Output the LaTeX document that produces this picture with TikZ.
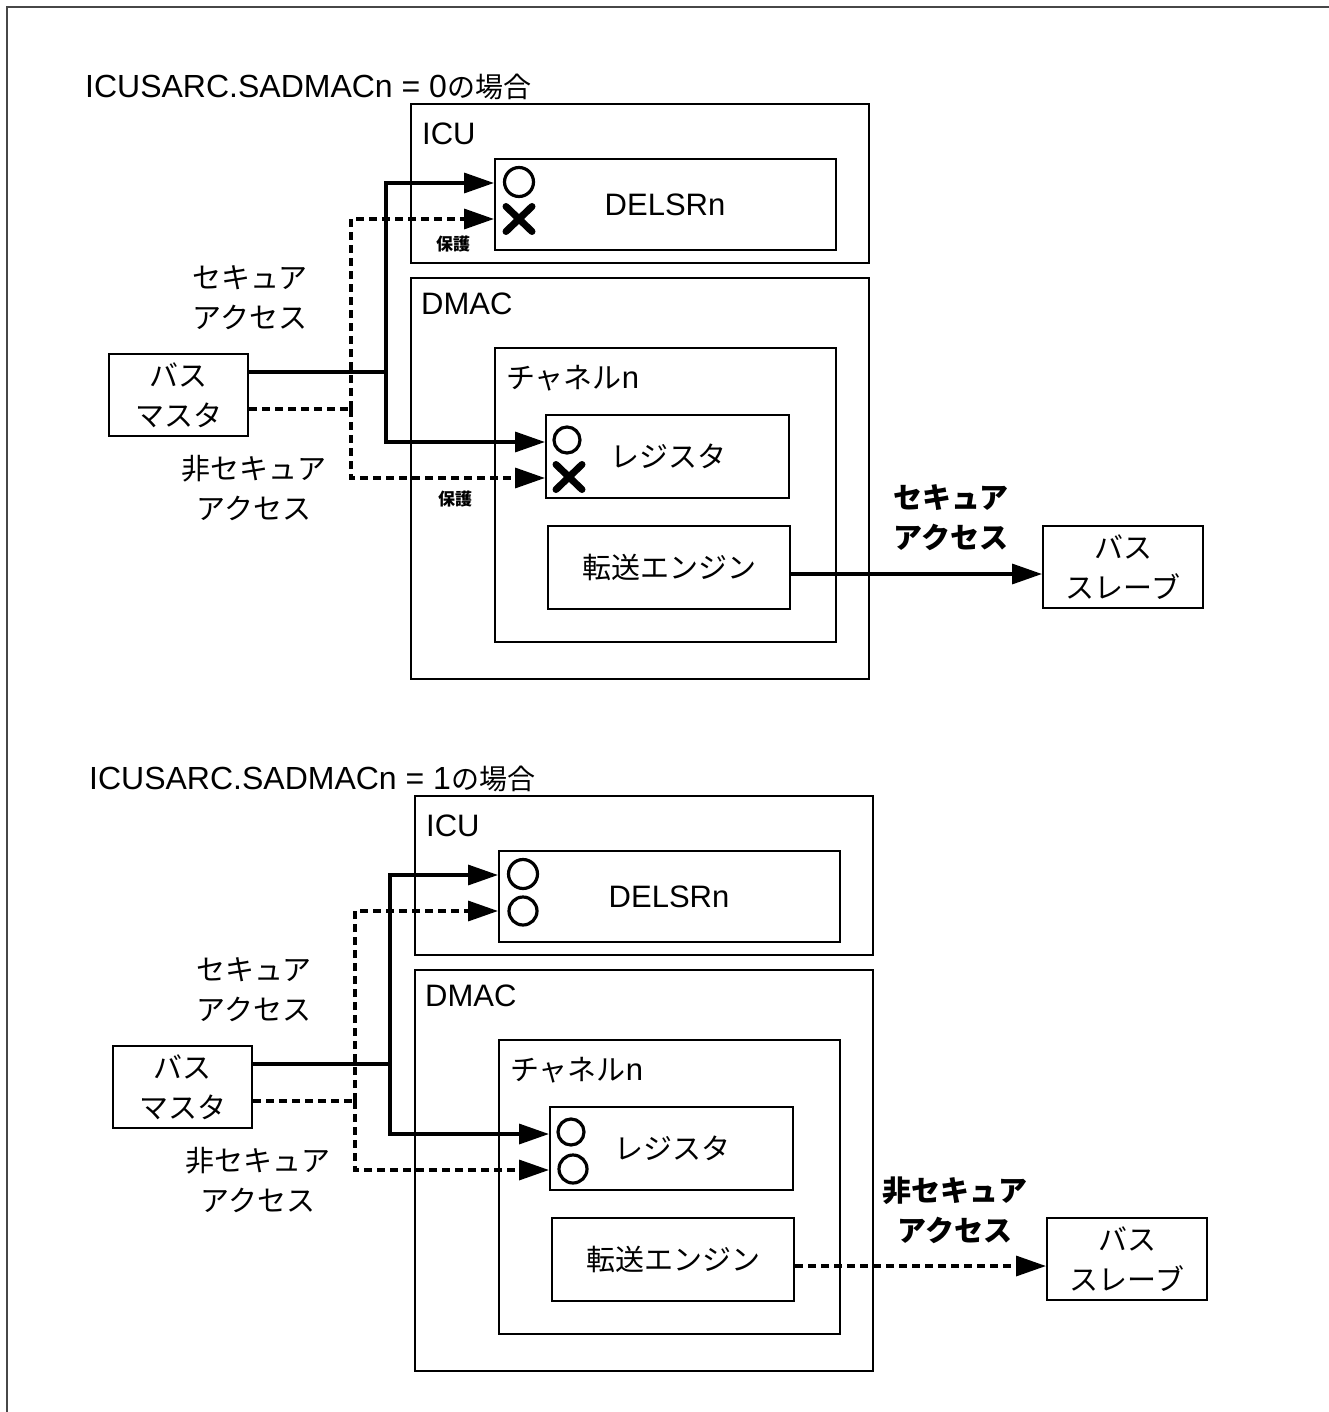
\documentclass[tikz,border=0pt]{standalone}
\usepackage{fontspec}
\setmainfont{Liberation Sans}
\newfontfamily\jp{Noto Sans CJK JP}
\usetikzlibrary{arrows.meta,shapes.misc}

\tikzset{
  box/.style={draw, line width=2pt, anchor=north west, inner sep=0pt},
  conn/.style={line width=3.4pt},
  dconn/.style={line width=3.4pt, dash pattern=on 8pt off 5pt},
  tip/.style={-{Triangle[length=30pt,width=20pt]}},
  lat/.style={font=\fontsize{31}{36}\selectfont},
  jtxt/.style={font=\jp\fontsize{29}{40}\selectfont, align=center},
  jbold/.style={font=\jp\bfseries\fontsize{29}{40}\selectfont, align=center},
  small/.style={font=\jp\bfseries\fontsize{17}{20}\selectfont, inner sep=0pt},
  lbl/.style={anchor=west, inner sep=0pt},
  okmark/.style={draw, circle, line width=3.2pt, inner sep=0pt},
  ngmark/.style={draw, cross out, line width=7pt, line cap=round, inner sep=0pt, minimum width=19pt, minimum height=18pt},
}

% #1 prefix, #2 value, #3 engine-line style, #4 engine label, #5 lower mark style, #6 protected (1/0)
\newcommand\drawhalf[6]{%
  \node[lbl, font=\fontsize{32}{36}\selectfont] (#1title) at (85,87) {ICUSARC.SADMACn = #2{\jp\fontsize{28}{30}\selectfont の場合}};
  % ICU
  \node[box, minimum width=458pt, minimum height=159pt] (#1icu) at (410,103) {};
  \node[lat, lbl] (#1icul) at (422,134) {ICU};
  \node[box, lat, minimum width=341pt, minimum height=91pt] (#1delsr) at (494,158) {\hspace*{-1pt}DELSRn};
  % DMAC
  \node[box, minimum width=458pt, minimum height=401pt] (#1dmac) at (410,277) {};
  \node[lat, lbl] (#1dmacl) at (421,304) {DMAC};
  \node[box, minimum width=341pt, minimum height=294pt] (#1ch) at (494,347) {};
  \node[lbl, font=\jp\fontsize{29}{32}\selectfont] (#1chl) at (506,378) {チャネル\fontspec{Liberation Sans}\fontsize{31}{32}\selectfont n};
  \node[box, jtxt, minimum width=243pt, minimum height=83pt] (#1reg) at (545,414) {\hspace*{2pt}レジスタ};
  \node[box, jtxt, minimum width=242pt, minimum height=83pt] (#1eng) at (547,525) {転送エンジン};
  % bus master / slave
  \node[box, jtxt, minimum width=139pt, minimum height=82pt] (#1bm) at (108,353) {バス\\マスタ};
  \node[box, jtxt, minimum width=160pt, minimum height=82pt] (#1bs) at (1042,525) {バス\\スレーブ};
  % side labels
  \node[jtxt] (#1sec) at (250,298) {セキュア\\アクセス};
  \node[jtxt] (#1nsec) at (254,488) {非セキュア\\アクセス};
  \node[jbold] (#1out) at (951,518) {#4\\アクセス};
  % marks
  \node[okmark, minimum size=29pt] (#1m1) at (519,182) {};
  \node[#5] (#1m2) at (519,219) {};
  \node[okmark, minimum size=26pt] (#1m3) at (567,440) {};
  \node[#5] (#1m4) at (569,477) {};
  % connectors
  \coordinate (#1js) at (386,372);
  \coordinate (#1jd) at (351,409);
  \draw[conn] (#1bm.east |- #1js) -- (#1js);
  \draw[conn, tip] (#1js) |- ([yshift=21.5pt]#1delsr.west);
  \draw[conn, tip] (#1js) |- ([yshift=14.5pt]#1reg.west);
  \draw[dconn] (#1bm.east |- #1jd) -- (#1jd);
  \draw[dconn, tip] (#1jd) |- ([yshift=-14.5pt]#1delsr.west);
  \draw[dconn, tip] (#1jd) |- ([yshift=-21.5pt]#1reg.west);
  \coordinate (#1ea) at ([yshift=-6.5pt]#1eng.east);
  \draw[#3, tip] (#1ea) -- (#1ea -| #1bs.west);
  \ifnum#6=1
    \node[small] (#1p1) at (453,244) {保護};
    \node[small] (#1p2) at (455,499) {保護};
  \fi
}

\begin{document}
\begin{tikzpicture}[x=1pt, y=-1pt]
  \useasboundingbox (0,0) rectangle (1329,1412);
  \coordinate (fr1) at (1329,7);
  \coordinate (fr2) at (7,7);
  \coordinate (fr3) at (7,1412);
  \draw[line width=2pt, color=black!72] (fr1) -- (fr2) -- (fr3);
  \begin{scope}
    \drawhalf{a}{0}{conn}{セキュア}{ngmark}{1}
  \end{scope}
  \begin{scope}[shift={(4,692)}]
    \drawhalf{b}{1}{dconn}{非セキュア}{okmark, minimum size=28pt}{0}
  \end{scope}
\end{tikzpicture}
\end{document}
